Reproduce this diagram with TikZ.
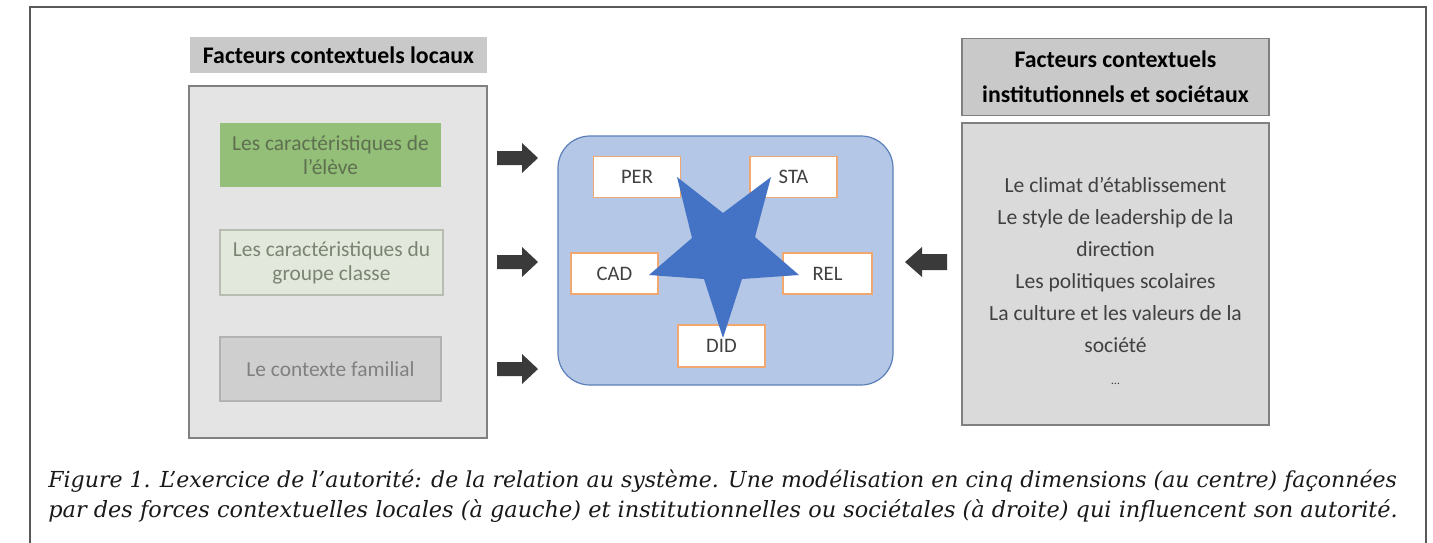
\documentclass[tikz,border=0pt]{standalone}
\usepackage{fontspec}
\setmainfont{Carlito}
\newfontfamily\capfont{DejaVu Serif}
\definecolor{hdrgray}{HTML}{C9C9C9}
\definecolor{panelgray}{HTML}{E4E4E4}
\definecolor{panelright}{HTML}{DADADA}
\definecolor{bordergray}{HTML}{808080}
\definecolor{greenbox}{HTML}{93BF78}
\definecolor{greentext}{HTML}{5E7050}
\definecolor{palegreen}{HTML}{E2E9DC}
\definecolor{palegreenborder}{HTML}{B8BDB4}
\definecolor{palegreentext}{HTML}{7A8472}
\definecolor{famgray}{HTML}{CFCFCF}
\definecolor{bluebg}{HTML}{B4C7E7}
\definecolor{blueborder}{HTML}{5B7FB8}
\definecolor{starblue}{HTML}{4472C4}
\definecolor{orangeb}{HTML}{F0A870}
\definecolor{arrowdark}{HTML}{3A3A3A}
\definecolor{txtdark}{HTML}{404040}
\tikzset{
  panel/.style={draw=bordergray, line width=0.6pt, inner sep=0pt},
  factor/.style={inner sep=0pt, align=center, font=\fontsize{10.7}{12}\selectfont},
  dimbox/.style={draw=orangeb, fill=white, line width=0.6pt, inner sep=0pt,
    minimum width=43.5pt, minimum height=20.5pt, font=\fontsize{10.3}{12}\selectfont, text=txtdark},
  blockarrow/.style={fill=arrowdark, draw=none},
  capstyle/.style={anchor=base west, inner sep=0pt, text=black!90},
}
\begin{document}
\begin{tikzpicture}[x=0.5pt, y=-0.5pt]
\useasboundingbox (0,0) rectangle (1433,542);
% outer frame
\draw[line width=1pt, color=black!65] (30,545) -- (30,7) -- (1426,7) -- (1426,545);

% left side
\node[fill=hdrgray, inner sep=0pt, minimum width=148.5pt, minimum height=18pt,
      font=\bfseries\fontsize{11.9}{14}\selectfont] (lhdr) at (338.5,55) {Facteurs contextuels locaux};
\node[panel, fill=panelgray, minimum width=149pt, minimum height=176pt] (lpanel) at (338,262) {};
\node[factor, fill=greenbox, text=greentext, minimum width=110.5pt, minimum height=32pt] (eleve) at (330.5,155)
  {Les caractéristiques de\\ l’élève};
\node[factor, fill=palegreen, draw=palegreenborder, line width=0.6pt, text=palegreentext,
      minimum width=111.5pt, minimum height=32.5pt] (groupe) at (331.5,262.5)
  {Les caractéristiques du\\ groupe classe};
\node[factor, fill=famgray, draw=black!30, line width=0.6pt, text=black!50,
      minimum width=110.5pt, minimum height=32pt] (famille) at (330.5,369)
  {Le contexte familial};

% block arrows left -> center
\coordinate (a1) at (517,158);
\coordinate (a2) at (517,262);
\coordinate (a3) at (517,369);
\foreach \c in {a1,a2,a3}
  \fill[blockarrow, shift={(\c)}] (-20,-7) -- (5,-7) -- (5,-15) -- (21,0) -- (5,15) -- (5,7) -- (-20,7) -- cycle;

% center
\node[draw=blueborder, fill=bluebg, line width=0.6pt, rounded corners=16pt,
      minimum width=167.5pt, minimum height=124.5pt, inner sep=0pt] (centre) at (725.5,260.5) {};
\node[dimbox] (per) at (637,177) {PER};
\node[dimbox] (sta) at (793.5,177) {STA};
\node[dimbox] (cad) at (614.5,273.5) {CAD};
\node[dimbox, minimum width=44.5pt] (rel) at (827.5,273.5) {REL};
\node[dimbox, minimum height=21pt] (did) at (721.5,346) {DID};
% star
\fill[starblue] (677,177) -- (723,213) -- (771,177) -- (755,237) -- (799,275)
   -- (742,279) -- (723,338) -- (704,279) -- (649,275) -- (692,238) -- cycle;

% block arrow right -> center
\coordinate (a4) at (926,262);
\fill[blockarrow, shift={(a4)}] (21,-8) -- (-4,-8) -- (-4,-15) -- (-21,0) -- (-4,15) -- (-4,8) -- (21,8) -- cycle;

% right side
\node[panel, fill=hdrgray, minimum width=153.5pt, minimum height=38.5pt, align=center,
      font=\bfseries\fontsize{11.9}{17.5}\selectfont] (rhdr) at (1115.5,77)
  {Facteurs contextuels\\ institutionnels et sociétaux};
\node[panel, fill=panelright, minimum width=153.5pt, minimum height=151pt] (rpanel) at (1115.5,274) {};
\node[align=center, inner sep=0pt, text=txtdark, font=\fontsize{10.8}{16}\selectfont] (rlist) at (1115.5,281)
  {Le climat d’établissement\\ Le style de leadership de la\\ direction\\ Les politiques scolaires\\
   La culture et les valeurs de la\\ société\\ {\fontsize{6}{8}\selectfont …}};

% caption
\node[capstyle, font=\capfont\itshape\fontsize{11.02}{15}\selectfont] (cap1) at (48,487)
  {Figure 1. L’exercice de l’autorité: de la relation au système. Une modélisation en cinq dimensions (au centre) façonnées};
\node[capstyle, font=\capfont\itshape\fontsize{11.2}{15}\selectfont] (cap2) at (48,517)
  {par des forces contextuelles locales (à gauche) et institutionnelles ou sociétales (à droite) qui influencent son autorité.};
\end{tikzpicture}
\end{document}
